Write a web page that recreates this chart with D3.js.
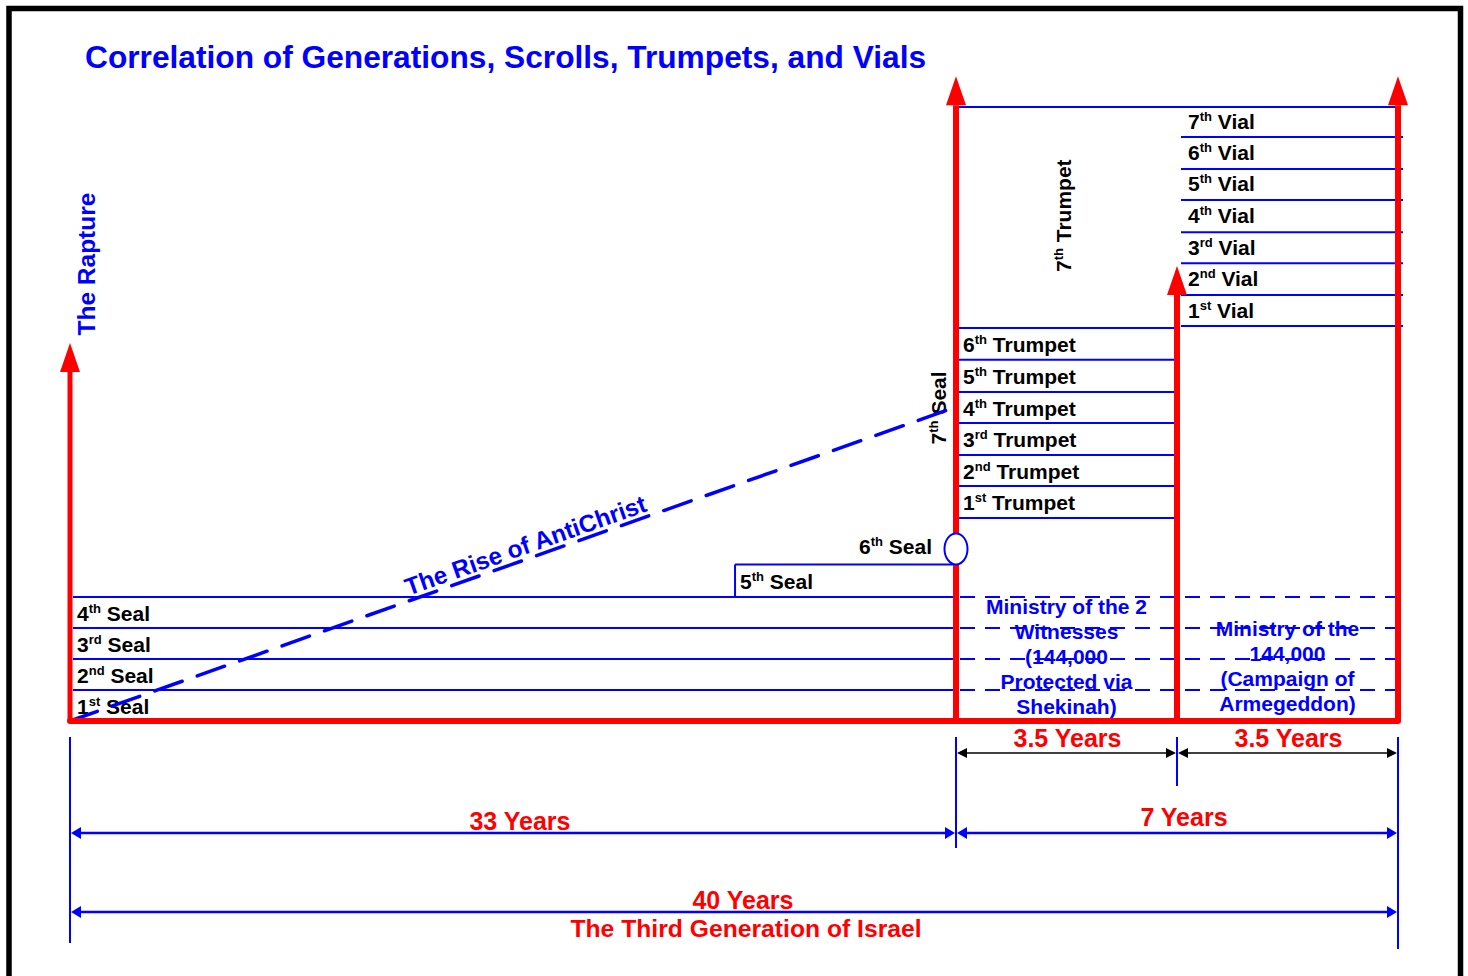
<!DOCTYPE html>
<html>
<head>
<meta charset="utf-8">
<script src="https://cdn.jsdelivr.net/npm/d3@7"></script>
<style>
  html, body { margin: 0; padding: 0; background: #fff; }
  svg { display: block; }
  text { font-family: "Liberation Sans", Arial, sans-serif; }
</style>
</head>
<body>
<svg id="chart" width="1468" height="976"></svg>
<script>
// ---------------- DATA ----------------
const title = "Correlation of Generations, Scrolls, Trumpets, and Vials";
const timeMarks = [0, 33, 36.5, 40];                 // years
const sealLabels = ["1st Seal", "2nd Seal", "3rd Seal", "4th Seal"];
const sealLines = [1, 2, 3, 4];                      // level units (top of each band)
const fifthSealTop = 5.05;
const sixthSealLevel = 5.55;
const fifthSealStart = 24.77;                        // year where 5th seal box begins
const trumpetLabels = ["1st Trumpet", "2nd Trumpet", "3rd Trumpet", "4th Trumpet", "5th Trumpet", "6th Trumpet"];
const trumpetLines = [6.55, 7.58, 8.58, 9.61, 10.61, 11.65, 12.68];
const vialLabels = ["1st Vial", "2nd Vial", "3rd Vial", "4th Vial", "5th Vial", "6th Vial", "7th Vial"];
const vialLines = [12.74, 13.74, 14.77, 15.77, 16.81, 17.81, 18.84, 19.81];
const arrowTops = [{year: 0, level: 12.19}, {year: 33, level: 20.8}, {year: 36.5, level: 14.68}, {year: 40, level: 20.8}];
const riseStart = {year: 0, level: 0};
const riseEnd = {year: 33, level: 10.13};
const ministry1 = ["Ministry of the 2", "Witnesses", "(144,000", "Protected via", "Shekinah)"];
const ministry2 = ["Ministry of the", "144,000", "(Campaign of", "Armegeddon)"];
const spans = [
  {from: 33, to: 36.5, label: "3.5 Years", row: 0},
  {from: 36.5, to: 40, label: "3.5 Years", row: 0},
  {from: 0, to: 33, label: "33 Years", row: 1},
  {from: 33, to: 40, label: "7 Years", row: 1},
  {from: 0, to: 40, label: "40 Years", row: 2}
];
const bottomCaption = "The Third Generation of Israel";

// ---------------- SCALES ----------------
const x = d3.scaleLinear().domain(timeMarks).range([70, 956, 1177, 1398]);
const y = d3.scaleLinear().domain([0, 20]).range([721, 101]);

const RED = "#ff0000", BLUE = "#0000ff", BLACK = "#000";
const svg = d3.select("#chart");

// frame
svg.append("rect").attr("x", 9).attr("y", 8.5).attr("width", 1451.5).attr("height", 1000)
  .attr("fill", "none").attr("stroke", BLACK).attr("stroke-width", 5.5);

// title
svg.append("text").attr("x", 85).attr("y", 68).attr("fill", BLUE)
  .attr("font-size", 31.7).attr("font-weight", "bold").text(title);

// helper: label with superscript ordinal
function ordinalText(g, str, xx, yy, opts = {}) {
  const m = str.match(/^(\d)(st|nd|rd|th)(.*)$/);
  const t = g.append("text").attr("x", xx).attr("y", yy)
    .attr("font-size", opts.size || 21).attr("font-weight", "bold")
    .attr("fill", opts.fill || BLACK);
  if (opts.anchor) t.attr("text-anchor", opts.anchor);
  if (opts.transform) t.attr("transform", opts.transform);
  t.append("tspan").text(m[1]);
  t.append("tspan").attr("font-size", 13).attr("dy", -8).text(m[2]);
  t.append("tspan").attr("dy", 8).text(m[3]);
  return t;
}

const labels = svg.append("g");
const lines = svg.append("g");

// Seal labels
sealLabels.forEach((s, i) => {
  const yc = (y(sealLines[i]) + y(i === 0 ? 0 : sealLines[i - 1])) / 2;
  ordinalText(labels, s, 77, yc + 8.5);
});
// 5th seal
ordinalText(labels, "5th Seal", x(fifthSealStart) + 5, (y(fifthSealTop) + y(sealLines[3])) / 2 + 8);
// 6th seal
ordinalText(labels, "6th Seal", 932, y(sixthSealLevel) + 5, {anchor: "end"});
// 7th seal (rotated)
ordinalText(labels, "7th Seal", 0, 0, {anchor: "middle", transform: `translate(946,${y(10.1)}) rotate(-90)`});

// Trumpet labels
trumpetLabels.forEach((s, i) => {
  const yc = (y(trumpetLines[i]) + y(trumpetLines[i + 1])) / 2;
  ordinalText(labels, s, 963, yc + 8);
});
ordinalText(labels, "7th Trumpet", 0, 0, {anchor: "middle", transform: `translate(1071,${y(16.3)}) rotate(-90)`});

// Vial labels
vialLabels.forEach((s, i) => {
  const yc = (y(vialLines[i]) + y(vialLines[i + 1])) / 2;
  ordinalText(labels, s, 1188, yc + 7);
});

// Ministry texts
const mx1 = (x(33) + x(36.5)) / 2, mx2 = (x(36.5) + x(40)) / 2;
ministry1.forEach((s, i) => {
  labels.append("text").attr("x", mx1).attr("y", 614 + i * 25).attr("text-anchor", "middle")
    .attr("font-size", 21).attr("font-weight", "bold").attr("fill", BLUE).text(s);
});
ministry2.forEach((s, i) => {
  labels.append("text").attr("x", mx2).attr("y", 636 + i * 25).attr("text-anchor", "middle")
    .attr("font-size", 21).attr("font-weight", "bold").attr("fill", BLUE).text(s);
});

// The Rapture
labels.append("text").attr("transform", `translate(95,${y(14.74)}) rotate(-90)`)
  .attr("text-anchor", "middle").attr("font-size", 24.5).attr("font-weight", "bold")
  .attr("fill", BLUE).text("The Rapture");

// Rise of AntiChrist
const x0 = x(riseStart.year), y0 = y(riseStart.level), x1 = x(riseEnd.year), y1 = y(riseEnd.level);
const ang = Math.atan2(y1 - y0, x1 - x0) * 180 / Math.PI;
const tx = 530, ty = y0 + (tx - x0) * (y1 - y0) / (x1 - x0);
labels.append("text").attr("transform", `translate(${tx},${ty}) rotate(${ang})`)
  .attr("text-anchor", "middle").attr("dy", -5).attr("font-size", 24.3).attr("font-weight", "bold")
  .attr("fill", BLUE).text("The Rise of AntiChrist");

// ---------- blue structure lines (over text) ----------
const bl = (x1_, y1_, x2_, y2_, dash, w) => {
  const l = lines.append("line").attr("x1", x1_).attr("y1", y1_).attr("x2", x2_).attr("y2", y2_)
    .attr("stroke", BLUE).attr("stroke-width", w || 2);
  if (dash) l.attr("stroke-dasharray", dash);
  return l;
};
sealLines.forEach(l => {
  bl(x(0) + 3, y(l), x(33), y(l));
  bl(x(33) + 4, y(l), x(40), y(l), "15,10");
});
// 5th seal box
bl(x(fifthSealStart), y(sealLines[3]), x(fifthSealStart), y(fifthSealTop));
bl(x(fifthSealStart), y(fifthSealTop), x(33), y(fifthSealTop));
// trumpets
trumpetLines.forEach(l => bl(x(33), y(l), x(36.5), y(l)));
// vials
vialLines.forEach((l, i) => {
  if (i === vialLines.length - 1) bl(x(33), y(l), x(40), y(l));
  else bl(x(36.5) + 4, y(l), x(40) + 5, y(l));
});
// rise line
bl(x0, y0, x1, y1, "29,16", 3.5).attr("stroke-linecap", "round");

// ---------- red verticals & baseline ----------
const red = svg.append("g");
arrowTops.forEach(a => {
  const xx = x(a.year), tip = y(a.level), base = tip + 29;
  red.append("line").attr("x1", xx).attr("x2", xx).attr("y1", y(0)).attr("y2", base)
    .attr("stroke", RED).attr("stroke-width", a.year === 0 ? 5 : 6);
  red.append("path").attr("d", `M${xx},${tip}L${xx + 10},${base}L${xx - 10},${base}Z`).attr("fill", RED);
});
red.append("line").attr("x1", x(0)).attr("x2", x(40)).attr("y1", y(0)).attr("y2", y(0))
  .attr("stroke", RED).attr("stroke-width", 6).attr("stroke-linecap", "round");

// 6th seal ellipse (on top of red line)
svg.append("ellipse").attr("cx", x(33)).attr("cy", y(sixthSealLevel)).attr("rx", 11.5).attr("ry", 15.5)
  .attr("fill", "#fff").attr("stroke", BLUE).attr("stroke-width", 2);

// ---------- dimension lines ----------
const dim = svg.append("g");
const ticks = [{year: 0, bottom: 943}, {year: 33, bottom: 848}, {year: 36.5, bottom: 786}, {year: 40, bottom: 949}];
ticks.forEach(t => dim.append("line").attr("x1", x(t.year)).attr("x2", x(t.year))
  .attr("y1", 737).attr("y2", t.bottom).attr("stroke", BLUE).attr("stroke-width", 2));

const rowY = [753, 833, 912];
const rowLabelY = [747, 830, 909];
const labelShift = {"33 Years": 7, "7 Years": 7, "3.5 Years": 1};
spans.forEach(s => {
  const col = s.row === 0 ? BLACK : BLUE;
  const w = s.row === 0 ? 1.5 : 2.5;
  const hl = 10, hw = s.row === 0 ? 5 : 6;
  const xa = x(s.from) + 1, xb = x(s.to) - 1, yy = rowY[s.row];
  dim.append("line").attr("x1", xa + 4).attr("x2", xb - 4).attr("y1", yy).attr("y2", yy)
    .attr("stroke", col).attr("stroke-width", w);
  dim.append("path").attr("d", `M${xa},${yy}L${xa + hl},${yy - hw}L${xa + hl},${yy + hw}Z`).attr("fill", col);
  dim.append("path").attr("d", `M${xb},${yy}L${xb - hl},${yy - hw}L${xb - hl},${yy + hw}Z`).attr("fill", col);
  let cx = (x(s.from) + x(s.to)) / 2 + (labelShift[s.label] || 0);
  if (s.label === "40 Years") cx = 743;
  dim.append("text").attr("x", cx).attr("y", s.label === "7 Years" ? 826 : rowLabelY[s.row])
    .attr("text-anchor", "middle").attr("font-size", 25).attr("font-weight", "bold")
    .attr("fill", RED).text(s.label);
});
dim.append("text").attr("x", 746).attr("y", 937).attr("text-anchor", "middle")
  .attr("font-size", 24.7).attr("font-weight", "bold").attr("fill", RED).text(bottomCaption);
</script>
</body>
</html>
